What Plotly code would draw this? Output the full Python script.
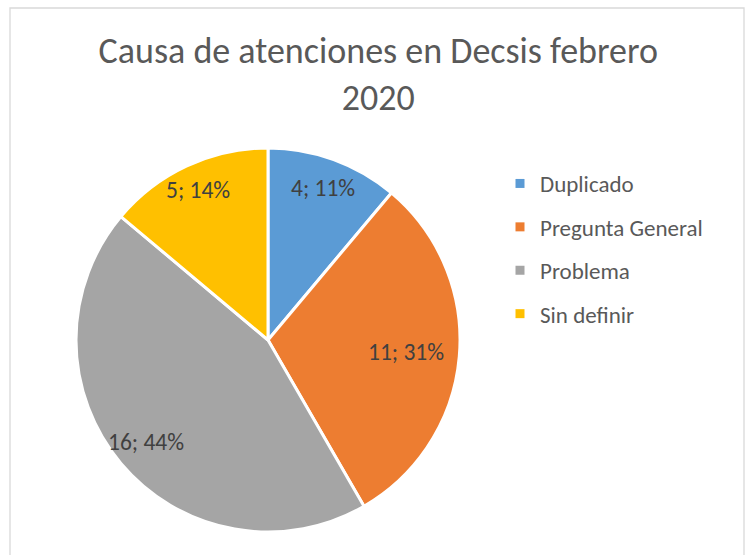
import math
import plotly.graph_objects as go

categories = ["Duplicado", "Pregunta General", "Problema", "Sin definir"]
values = [4, 11, 16, 5]
colors = ["#5B9BD5", "#ED7D31", "#A5A5A5", "#FFC000"]
title_text = "Causa de atenciones en Decsis febrero<br>2020"

# label placement style (fraction of radius, per slice, Excel "best fit" look)
LABEL_R = [0.84, 0.72, 0.83, 0.86]

W, H = 752, 555
FONT = "Calibri, Carlito, Lato, sans-serif"

# pie geometry in pixels
CX, CY, R = 268, 340, 192

total = sum(values)
texts = [f"{v}; {round(100 * v / total)}%" for v in values]

fig = go.Figure()
fig.add_trace(go.Pie(
    labels=categories,
    values=values,
    textinfo="none",
    sort=False,
    direction="clockwise",
    rotation=0,
    marker=dict(colors=colors, line=dict(color="white", width=3)),
    showlegend=False,
    hoverinfo="label+value+percent",
    domain=dict(x=[(CX - R) / W, (CX + R) / W], y=[(H - CY - R) / H, (H - CY + R) / H]),
))

for cat, col in zip(categories, colors):
    fig.add_trace(go.Scatter(
        x=[None], y=[None], mode="markers", name=cat,
        marker=dict(symbol="square", size=9, color=col, line=dict(width=0)),
        legendgroup=cat, showlegend=True,
    ))

annotations = []
cum = 0
for v, t, f in zip(values, texts, LABEL_R):
    mid = (cum + v / 2) / total * 2 * math.pi
    cum += v
    px = CX + R * f * math.sin(mid)
    py = CY - R * f * math.cos(mid)
    annotations.append(dict(x=px / W, y=1 - py / H, xref="paper", yref="paper",
                            text=t, showarrow=False, xanchor="center", yanchor="middle",
                            font=dict(family=FONT, size=23.5, color="#404040")))

fig.update_layout(
    width=W, height=H,
    margin=dict(l=0, r=0, t=0, b=0),
    paper_bgcolor="white", plot_bgcolor="white",
    title=dict(text=title_text, x=0.503, xanchor="center",
               y=1 - 63 / H, yanchor="middle", yref="container",
               font=dict(family=FONT, size=36, color="#595959")),
    xaxis=dict(visible=False), yaxis=dict(visible=False),
    legend=dict(x=500 / W, xanchor="left", y=1 - 162 / H, yanchor="top",
                font=dict(family=FONT, size=23, color="#595959"),
                tracegroupgap=10.5, bgcolor="rgba(0,0,0,0)"),
    annotations=annotations,
    shapes=[dict(type="rect", xref="paper", yref="paper",
                 x0=10 / W, x1=744 / W, y0=-0.05, y1=1 - 8 / H,
                 line=dict(color="#D9D9D9", width=1.3))],
)

fig.write_html("out.html", config={"displayModeBar": False},
               post_script="document.body.style.margin='0';")
